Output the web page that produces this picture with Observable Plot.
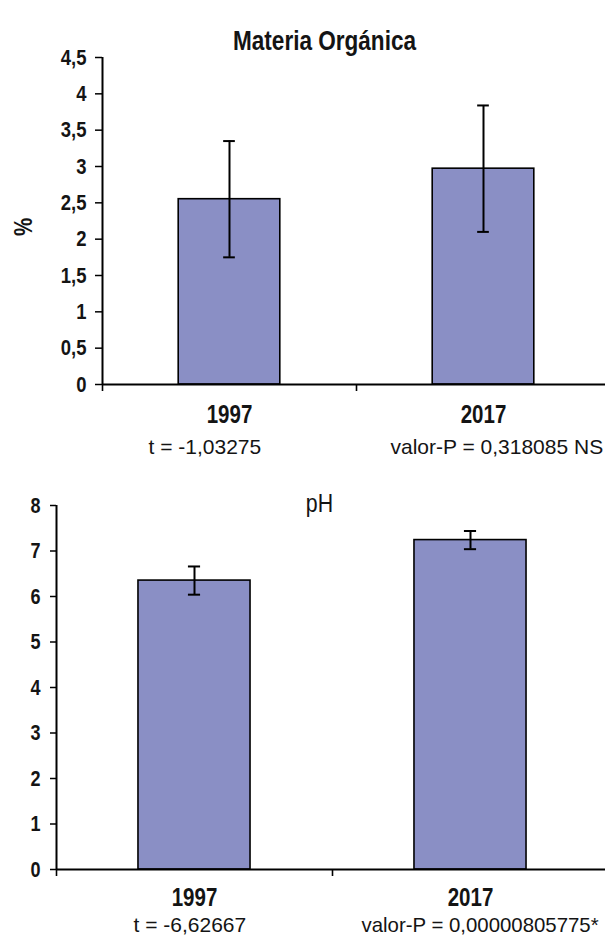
<!DOCTYPE html>
<html>
<head>
<meta charset="utf-8">
<script src="https://cdn.jsdelivr.net/npm/d3@7"></script>
<script src="https://cdn.jsdelivr.net/npm/@observablehq/plot@0.6"></script>
<style>
  html, body { margin: 0; padding: 0; background: #fff; }
  #chart svg { display: block; }
</style>
</head>
<body>
<div id="chart"></div>
<script>
// ---- Data ----
const years = ["1997", "2017"];

const moTitle = "Materia Orgánica";
const moYLabel = "%";
const moMeans = [2.55, 2.97];
const moErrors = [0.80, 0.87];
const moTicks = [0, 0.5, 1, 1.5, 2, 2.5, 3, 3.5, 4, 4.5];
const moStats = ["t = -1,03275", "valor-P = 0,318085 NS"];

const phTitle = "pH";
const phMeans = [6.35, 7.24];
const phErrors = [0.31, 0.20];
const phTicks = [0, 1, 2, 3, 4, 5, 6, 7, 8];
const phStats = ["t = -6,62667", "valor-P = 0,00000805775*"];

// ---- Styling ----
// "Arial Narrow" is not installed; it falls back to Liberation Sans and is then compressed horizontally.
const NARROW = "'Arial Narrow', 'Liberation Sans', Arial, sans-serif";
const REGULAR = "'Liberation Sans', Arial, sans-serif";
const NARROW_RATIO = 0.82;
const BAR_FILL = "#8a8fc5";
const INK = "#141414";
const commaFmt = d => String(d).replace(".", ",");

function rows(means, errors) {
  return years.map((year, i) => ({year, pos: i + 0.5, mean: means[i], err: errors[i]}));
}

function panel(cfg) {
  const data = rows(cfg.means, cfg.errors);
  const marks = [
    Plot.rectY(data, {x1: d => d.pos - cfg.barHalf, x2: d => d.pos + cfg.barHalf, y1: 0, y2: "mean",
      fill: BAR_FILL, stroke: "#000", strokeWidth: 1.6}),
    Plot.ruleX(data, {x: "pos", y1: d => d.mean - d.err, y2: d => d.mean + d.err, stroke: "#000", strokeWidth: 2}),
    Plot.ruleY(data, {y: d => d.mean + d.err, x1: d => d.pos - cfg.capHalf, x2: d => d.pos + cfg.capHalf, stroke: "#000", strokeWidth: 2}),
    Plot.ruleY(data, {y: d => d.mean - d.err, x1: d => d.pos - cfg.capHalf, x2: d => d.pos + cfg.capHalf, stroke: "#000", strokeWidth: 2}),
    Plot.axisY({ticks: cfg.ticks, tickFormat: commaFmt, tickSize: cfg.tickSize, tickPadding: cfg.tickPadding,
      fontFamily: NARROW, fontWeight: "bold", fontSize: cfg.tickFont, fill: INK, stroke: "#000", strokeWidth: 1.5, label: null}),
    Plot.axisX({ticks: [0, 1, 2], tickFormat: () => "", tickSize: 7, stroke: "#000", strokeWidth: 1.6, label: null}),
    Plot.ruleX([0], {stroke: "#000", strokeWidth: 2}),
    Plot.ruleY([0], {stroke: "#000", strokeWidth: 2}),
    Plot.text(data, {x: "pos", y: 0, text: "year", dy: cfg.yearDy, fontFamily: NARROW, fontWeight: "bold",
      fontSize: cfg.yearFont, fill: INK}),
    Plot.text([cfg.title], {frameAnchor: "top-left", textAnchor: "middle", dx: cfg.titleDx, dy: cfg.titleDy,
      fontFamily: NARROW, fontWeight: cfg.titleWeight, fontSize: cfg.titleFont, fill: INK}),
    Plot.text([cfg.stats[0]], {frameAnchor: "bottom-left", textAnchor: "start", dx: cfg.tDx, dy: cfg.statDy,
      fontFamily: REGULAR, fontSize: 21, fill: INK}),
    Plot.text([cfg.stats[1]], {frameAnchor: "bottom-left", textAnchor: "start", dx: cfg.pDx, dy: cfg.statDy,
      fontFamily: REGULAR, fontSize: cfg.pFont, fill: INK})
  ];
  if (cfg.yLabel) {
    marks.push(Plot.text([cfg.yLabel], {frameAnchor: "left", textAnchor: "middle", rotate: -90, dx: -79, dy: 6,
      fontFamily: NARROW, fontWeight: "bold", fontSize: 25, fill: INK}));
  }
  return Plot.plot({
    width: 605,
    height: cfg.height,
    marginLeft: cfg.left,
    marginRight: 0,
    marginTop: cfg.top,
    marginBottom: cfg.bottom,
    x: {type: "linear", domain: [0, 2], range: [cfg.left, cfg.right], axis: null},
    y: {domain: [0, cfg.ticks[cfg.ticks.length - 1]], axis: null},
    style: {background: "#fff", color: INK, overflow: "hidden"},
    marks
  });
}

const chart = document.getElementById("chart");
chart.append(panel({
  means: moMeans, errors: moErrors, ticks: moTicks, stats: moStats, title: moTitle, yLabel: moYLabel,
  height: 470, top: 57, bottom: 86, left: 102, right: 610,
  barHalf: 0.2, capHalf: 0.023, tickSize: 7, tickPadding: 9, tickFont: 22.5,
  yearDy: 30, yearFont: 25, titleDx: 222, titleDy: -27, titleFont: 27.5, titleWeight: "bold",
  tDx: 46, pDx: 288, statDy: 69, pFont: 21
}));
chart.append(panel({
  means: phMeans, errors: phErrors, ticks: phTicks, stats: phStats, title: phTitle, yLabel: null,
  height: 469, top: 35, bottom: 70, left: 56, right: 608,
  barHalf: 0.203, capHalf: 0.022, tickSize: 6, tickPadding: 10, tickFont: 22,
  yearDy: 28, yearFont: 25, titleDx: 263, titleDy: -12, titleFont: 26, titleWeight: "normal",
  tDx: 77, pDx: 305, statDy: 62, pFont: 20.4
}));

// Simulate a narrow face: compress the glyphs of the narrow texts horizontally.
chart.querySelectorAll("g[font-family^=\"'Arial Narrow'\"] text").forEach(t => {
  const len = t.getComputedTextLength();
  if (len > 0) {
    t.setAttribute("textLength", (len * NARROW_RATIO).toFixed(2));
    t.setAttribute("lengthAdjust", "spacingAndGlyphs");
  }
});
</script>
</body>
</html>
